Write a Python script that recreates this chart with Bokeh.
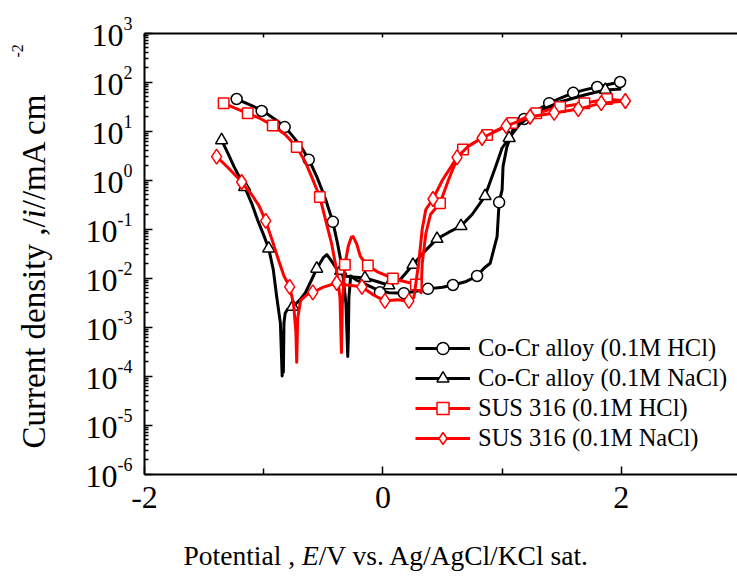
from math import pi, log10
from bokeh.plotting import figure
from bokeh.models import Range1d, FixedTicker, LinearAxis, LogAxis, Label, Legend, LegendItem
from bokeh.embed import file_html
from bokeh.resources import INLINE

# ---------------- data ----------------
cocr_hcl_E = [-1.23, -1.10, -1.00, -0.90, -0.82, -0.75, -0.68, -0.62, -0.55, -0.48, -0.42, -0.38, -0.34,
              -0.31, -0.295, -0.29, -0.285, -0.27, -0.22, -0.15, -0.05, 0.05, 0.18, 0.30, 0.38, 0.50, 0.59,
              0.70, 0.79, 0.85, 0.90, 0.958, 0.975, 1.0, 1.008, 1.04, 1.09, 1.185, 1.30, 1.395, 1.50, 1.597,
              1.70, 1.798, 1.90, 1.99]
cocr_hcl_i = [45, 33, 25, 17, 12, 7.5, 4.5, 2.6, 1.1, 0.4, 0.14, 0.05, 0.015,
              0.003, 2.5e-4, 6e-4, 0.004, 0.011, 0.009, 0.0075, 0.0058, 0.0050, 0.0049, 0.0055, 0.006, 0.0065, 0.0072,
              0.0085, 0.011, 0.016, 0.020, 0.07, 0.35, 0.63, 1.9, 4.7, 10.5, 17.6, 27, 37, 48, 60,
              70, 79, 90, 100]
cocr_hcl_mE = [-1.227, -1.017, -0.824, -0.622, -0.420, -0.025, 0.176, 0.378, 0.588, 0.790, 0.975, 1.185,
               1.395, 1.597, 1.798, 1.99]
cocr_hcl_mi = [45, 25.6, 12, 2.6, 0.14, 0.0051, 0.0049, 0.006, 0.0072, 0.011, 0.35, 17.6, 37, 60, 79, 100]

cocr_nacl_E = [-1.353, -1.30, -1.25, -1.20, -1.16, -1.10, -1.05, -1.00, -0.958, -0.92, -0.89, -0.86, -0.845,
               -0.84, -0.835, -0.83, -0.82, -0.80, -0.756, -0.70, -0.65, -0.60, -0.555, -0.50, -0.47, -0.43,
               -0.38, -0.33, -0.25, -0.151, -0.05, 0.05, 0.15, 0.252, 0.35, 0.454, 0.55, 0.655, 0.75, 0.857,
               0.95, 1.0, 1.059, 1.15, 1.30, 1.50, 1.70, 1.866, 2.0]
cocr_nacl_i = [6.5, 3.5, 1.9, 1.1, 0.72, 0.33, 0.15, 0.075, 0.04, 0.015, 0.004, 0.0012, 1.0e-4,
               8e-4, 1.2e-4, 0.0012, 0.0019, 0.0023, 0.0026, 0.0035, 0.005, 0.009, 0.0155, 0.026, 0.03, 0.022,
               0.0145, 0.011, 0.0105, 0.010, 0.0085, 0.0071, 0.0095, 0.0186, 0.035, 0.063, 0.085, 0.115, 0.2, 0.47,
               2.0, 4.5, 7.2, 14, 25, 40, 55, 69, 72]
cocr_nacl_mE = [-1.353, -1.16, -0.958, -0.756, -0.555, -0.355, -0.151, 0.05, 0.252, 0.454, 0.655, 0.857,
                1.059, 1.866]
cocr_nacl_mi = [6.5, 0.72, 0.04, 0.0026, 0.0155, 0.014, 0.010, 0.0071, 0.0186, 0.063, 0.115, 0.47, 7.2, 69]

sus_hcl_E = [-1.336, -1.25, -1.134, -1.03, -0.924, -0.82, -0.723, -0.65, -0.60, -0.529, -0.48, -0.43, -0.39,
             -0.36, -0.348, -0.34, -0.319, -0.29, -0.265, -0.25, -0.22, -0.19, -0.16, -0.126, -0.05, 0.084,
             0.18, 0.277, 0.30, 0.32, 0.33, 0.36, 0.40, 0.479, 0.55, 0.60, 0.672, 0.874, 1.084, 1.286, 1.487,
             1.69, 1.88, 2.0]
sus_hcl_i = [37, 30, 23, 18, 13, 8.5, 4.7, 2.3, 1.2, 0.45, 0.15, 0.05, 0.015,
             0.004, 3e-4, 0.003, 0.0186, 0.045, 0.068, 0.07, 0.05, 0.028, 0.022, 0.018, 0.0135, 0.0098,
             0.0085, 0.0074, 0.006, 0.005, 0.02, 0.08, 0.2, 0.334, 1.0, 2.0, 4.2, 8.3, 14.5, 23, 31,
             37, 45, 42]
sus_hcl_mE = [-1.336, -1.134, -0.924, -0.723, -0.529, -0.319, -0.126, 0.084, 0.277, 0.479, 0.672, 0.874,
              1.084, 1.286, 1.487, 1.69, 1.88]
sus_hcl_mi = [37, 23, 13, 4.7, 0.45, 0.0186, 0.018, 0.0098, 0.0074, 0.334, 4.2, 8.3, 14.5, 23, 31, 37, 45]

sus_nacl_E = [-1.395, -1.30, -1.185, -1.10, -1.04, -0.983, -0.93, -0.88, -0.83, -0.782, -0.75, -0.73, -0.723,
              -0.715, -0.69, -0.64, -0.588, -0.50, -0.387, -0.30, -0.176, -0.08, 0.017, 0.12, 0.218, 0.26,
              0.30, 0.33, 0.36, 0.42, 0.50, 0.622, 0.72, 0.832, 1.034, 1.235, 1.437, 1.639, 1.832, 2.034]
sus_nacl_i = [3.0, 1.8, 0.91, 0.5, 0.3, 0.146, 0.06, 0.025, 0.011, 0.0066, 0.003, 8e-4, 1.9e-4,
              0.0015, 0.0035, 0.0045, 0.0051, 0.0065, 0.0079, 0.0072, 0.0066, 0.0045, 0.0034, 0.0036, 0.0034, 0.004,
              0.02, 0.1, 0.25, 0.41, 1.0, 2.9, 5.0, 7.2, 12.6, 19.5, 23.4, 28, 37, 41]
sus_nacl_mE = [-1.395, -1.185, -0.983, -0.782, -0.588, -0.387, -0.176, 0.017, 0.218, 0.42, 0.622, 0.832,
               1.034, 1.235, 1.437, 1.639, 1.832, 2.034]
sus_nacl_mi = [3.0, 0.91, 0.146, 0.0066, 0.0051, 0.0079, 0.0066, 0.0034, 0.0034, 0.41, 2.9, 7.2,
               12.6, 19.5, 23.4, 28, 37, 41]

series_labels = ["Co-Cr alloy (0.1M HCl)", "Co-Cr alloy (0.1M NaCl)", "SUS 316 (0.1M HCl)", "SUS 316 (0.1M NaCl)"]
x_ticks = [-2, 0, 2]
x_minor = [-1, 1]
y_exponents = [-6, -5, -4, -3, -2, -1, 0, 1, 2, 3]
x_min, x_max = -2, 3
y_min, y_max = 1e-6, 1e3

# ---------------- geometry (pixels) ----------------
W, H = 737, 579
BL, BT, BB = 6, 6, 3            # small borders; axes are drawn inside the frame at fixed locations
PX_XMIN = 144.0                 # pixel column of x = -2
PX_YMAX = 32.5                  # pixel row of y = 1e3
SX = 119.2                      # pixels per volt
DEC = 49.0                      # pixels per decade
x_start = x_min - (PX_XMIN - BL) / SX
x_end = x_min + (W - PX_XMIN) / SX
ly_top = log10(y_max) + (PX_YMAX - BT) / DEC
ly_bot = log10(y_max) - (H - BB - PX_YMAX) / DEC

FONT = "Liberation Serif"
p = figure(width=W, height=H, output_backend="svg", toolbar_location=None,
           y_axis_type="log", x_range=Range1d(x_start, x_end), y_range=Range1d(10 ** ly_bot, 10 ** ly_top),
           min_border_left=BL, min_border_right=0, min_border_top=BT, min_border_bottom=BB)
p.outline_line_color = None
p.grid.visible = False
p.background_fill_color = "white"
p.border_fill_color = "white"

styles = [("black", "circle", 11), ("black", "triangle", 12), ("red", "square", 10.5), ("red", "diamond", 15)]
data = [(cocr_hcl_E, cocr_hcl_i, cocr_hcl_mE, cocr_hcl_mi),
        (cocr_nacl_E, cocr_nacl_i, cocr_nacl_mE, cocr_nacl_mi),
        (sus_hcl_E, sus_hcl_i, sus_hcl_mE, sus_hcl_mi),
        (sus_nacl_E, sus_nacl_i, sus_nacl_mE, sus_nacl_mi)]

items = []
for (E, i, mE, mi), (col, mk, sz), lab in zip(data, styles, series_labels):
    lr = p.line(E, i, line_color=col, line_width=3, line_join="round")
    mr = p.scatter(mE, mi, marker=mk, size=sz, fill_color="white", line_color=col, line_width=1.5)
    items.append(LegendItem(label=lab, renderers=[lr, mr]))

legend = Legend(items=items, location=(415 - BL, (H - BB) - 453), padding=0, margin=0, spacing=0,
                glyph_width=55, glyph_height=30, label_height=30, label_standoff=8,
                border_line_color=None, background_fill_alpha=0,
                label_text_font=FONT, label_text_font_size="24.5px", label_text_color="black")
p.add_layout(legend)


def tick_axis(cls, ticks, tick_len, loc, bounds, line=True):
    ax = cls(ticker=FixedTicker(ticks=[], minor_ticks=ticks), fixed_location=loc, bounds=bounds,
             major_tick_in=0, major_tick_out=0, minor_tick_in=tick_len, minor_tick_out=0,
             major_label_standoff=0, axis_line_width=2, minor_tick_line_width=1.5,
             axis_line_color="black" if line else None)
    return ax


# tick-only axes pinned to the data box
p.xaxis[0].visible = False
p.yaxis[0].visible = False
y_major = [10.0 ** e for e in y_exponents]
y_minor = [k * 10.0 ** e for e in y_exponents[:-1] for k in range(2, 10)]
p.add_layout(tick_axis(LogAxis, y_major, 8, x_min, (y_min, y_max)), "left")
p.add_layout(tick_axis(LogAxis, y_minor, 4, x_min, (y_min, y_max), line=False), "left")
p.add_layout(tick_axis(LinearAxis, x_ticks, 8, y_min, (x_min, x_end)), "below")
p.add_layout(tick_axis(LinearAxis, x_minor, 6, y_min, (x_min, x_end), line=False), "below")
p.add_layout(tick_axis(LinearAxis, x_ticks + x_minor, 4, y_max, (x_min, x_end)), "above")

# y tick labels: "10" with a superscript exponent
for e in y_exponents:
    s = str(e)
    sw = sum(6.0 if ch == "-" else 9.0 for ch in s)
    p.add_layout(Label(x=x_min, y=10.0 ** e, text=s, x_offset=-12, y_offset=10, text_align="right",
                       text_baseline="middle", text_font=FONT, text_font_size="18px", text_color="black"))
    p.add_layout(Label(x=x_min, y=10.0 ** e, text="10", x_offset=-12 - sw, y_offset=-2, text_align="right",
                       text_baseline="middle", text_font=FONT, text_font_size="32px", text_color="black"))

# x tick labels
for t in x_ticks:
    p.add_layout(Label(x=t, y=y_min, text=str(t), y_offset=-23.5, text_align="center",
                       text_baseline="alphabetic", text_font=FONT, text_font_size="32px", text_color="black"))

# x-axis title
xs = 27.5
x0 = 39
pieces = [("Potential , ", "normal", 4.306), ("E", "italic", 0.611), ("/V vs. Ag/AgCl/KCl sat.", "normal", 9.863)]
for txt, st, w in pieces:
    p.add_layout(Label(x=x_min, y=y_min, text=txt, x_offset=x0, y_offset=-81.5, text_align="left",
                       text_baseline="alphabetic", text_font=FONT, text_font_size=f"{xs}px",
                       text_font_style=st, text_color="black"))
    x0 += w * xs

# y-axis title (rotated)
ys = 33
y0 = 25.5
ypieces = [("Current density ,/", "normal", 6.972), ("i", "italic", 0.278), ("//mA cm", "normal", 3.528)]
for txt, st, w in ypieces:
    p.add_layout(Label(x=x_min, y=y_min, text=txt, x_offset=-111, y_offset=y0, angle=pi / 2, text_align="left",
                       text_baseline="alphabetic", text_font=FONT, text_font_size=f"{ys}px",
                       text_font_style=st, text_color="black"))
    y0 += w * ys
p.add_layout(Label(x=x_min, y=y_min, text="-2", x_offset=-127, y_offset=416.5, angle=pi / 2, text_align="left",
                   text_baseline="alphabetic", text_font=FONT, text_font_size="16px", text_color="black"))

open("out.html", "w").write(file_html(p, INLINE))
